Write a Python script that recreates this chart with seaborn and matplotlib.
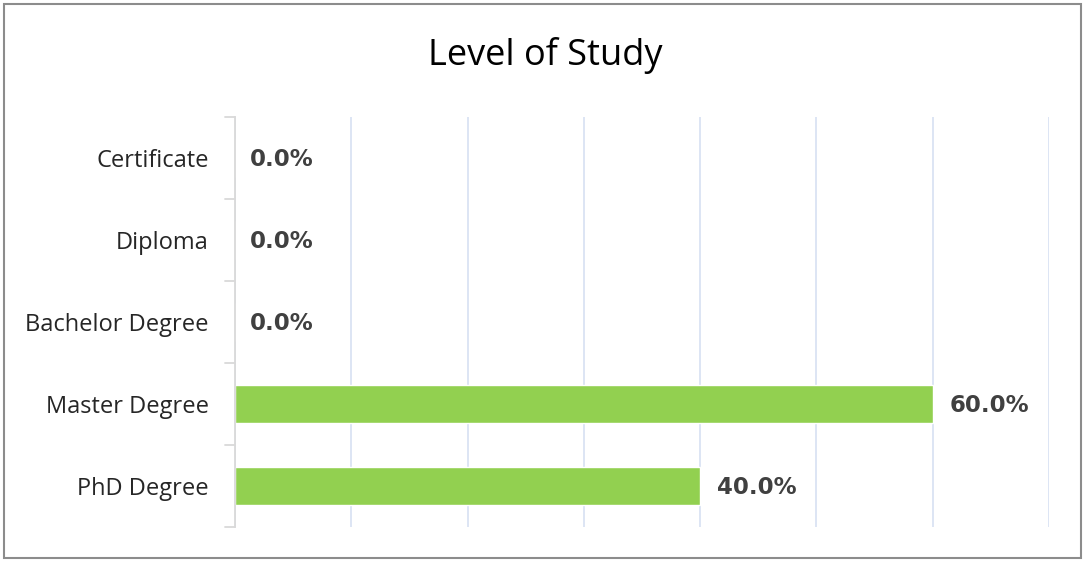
import matplotlib
matplotlib.use("Agg")
import matplotlib.pyplot as plt
import seaborn as sns
import pandas as pd
from matplotlib.patches import Rectangle

categories = ["Certificate", "Diploma", "Bachelor Degree", "Master Degree", "PhD Degree"]
values = [0.0, 0.0, 0.0, 60.0, 40.0]
title = "Level of Study"

df = pd.DataFrame({"cat": categories, "val": values})

sns.set_theme(style="white")
plt.rcParams['font.family'] = ['Open Sans', 'DejaVu Sans']

fig = plt.figure(figsize=(10.84, 5.61), dpi=100)
ax = fig.add_axes([235/1084, 1 - 527/561, (1049-235)/1084, (527-117)/561])

sns.barplot(data=df, y="cat", x="val", orient="h", color="#92d050", saturation=1,
            width=0.46, ax=ax, order=categories)

ax.set_xlim(0, 70)
ax.set_ylim(4.5, -0.5)
ax.set_xticks(range(0, 71, 10))
ax.set_xticklabels([])
ax.xaxis.grid(True, color="#dae3f3", linewidth=1.3)
ax.yaxis.grid(False)
ax.set_axisbelow(True)
ax.set_xlabel("")
ax.set_ylabel("")

for s in ["top", "right", "bottom"]:
    ax.spines[s].set_visible(False)
ax.spines["left"].set_color("#d9d9d9")
ax.spines["left"].set_linewidth(1.3)

ax.set_yticks(range(len(categories)))
ax.set_yticklabels(categories, fontsize=17, color="#262626")
ax.tick_params(axis="y", length=0, pad=19)
ax.tick_params(axis="x", length=0)
# tick marks at category boundaries
for b in [i - 0.5 for i in range(len(categories) + 1)]:
    ax.plot([-0.012, 0], [b, b], transform=ax.get_yaxis_transform(), color="#d9d9d9",
            linewidth=1.3, clip_on=False)

for i, v in enumerate(values):
    ax.text(v + 1.45 if v > 0 else 1.3, i + 0.02, f"{v:.1f}%", va="center", ha="left",
            fontsize=16.5, fontweight="bold", color="#404040", family="DejaVu Sans")

fig.text(545/1084, 1 - 55/561, title, ha="center", va="center", fontsize=26, color="#000000")

fig.patches.append(Rectangle((4/1084, 3/561), 1077/1084, 554/561, transform=fig.transFigure,
                             fill=False, edgecolor="#8c8c8c", linewidth=1.5))

fig.savefig("out.png", dpi=100)
